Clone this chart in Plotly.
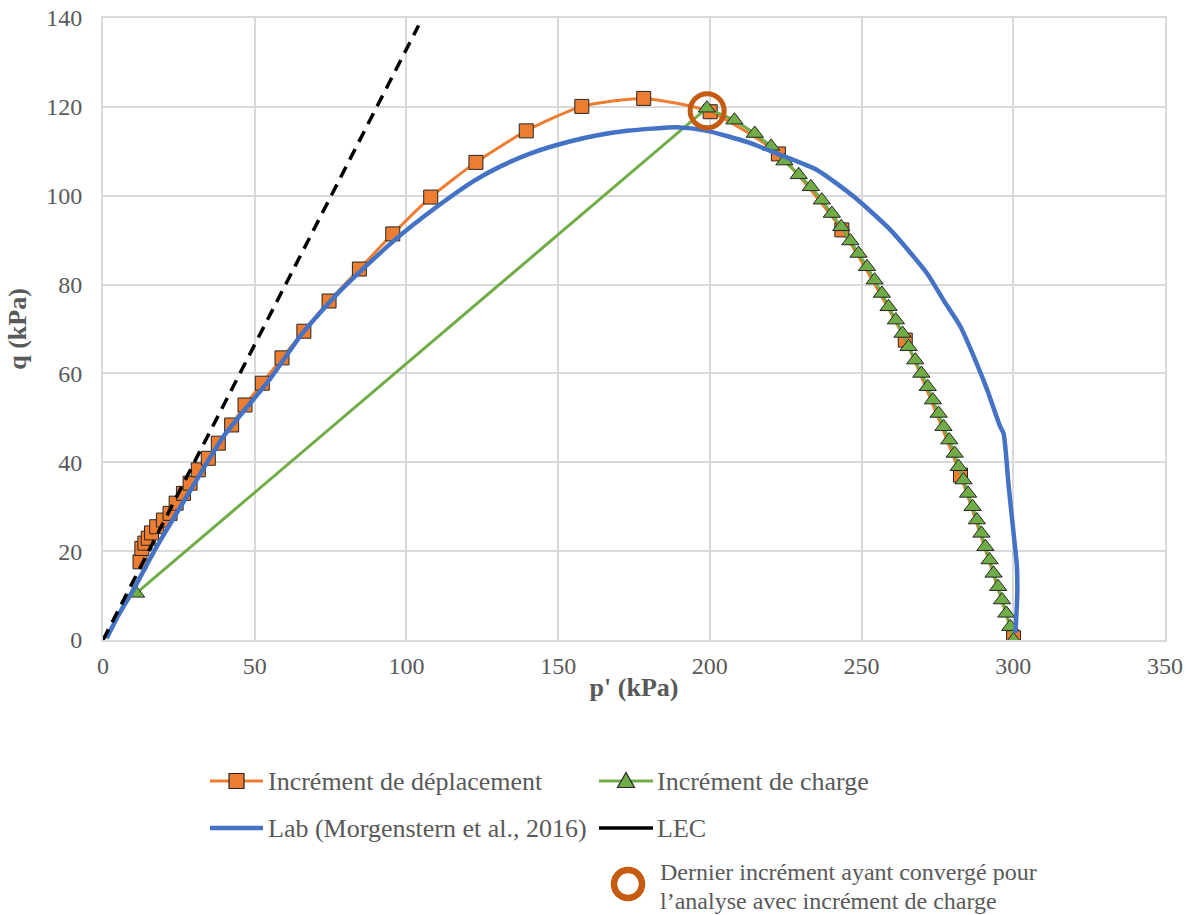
import plotly.graph_objects as go

# ---- data ----
disp_p = [12.2, 12.8, 13.8, 14.9, 16.0, 17.7, 19.9, 22.1, 24.1, 26.5, 28.7, 31.4, 34.7, 38.0,
          42.4, 46.8, 52.5, 59.0, 66.2, 74.5, 84.5, 95.5, 108.0, 122.9, 139.5, 157.8, 178.2,
          200.1, 222.6, 243.5, 264.4, 282.6, 300.1]
disp_q = [17.6, 20.6, 21.8, 22.9, 24.1, 25.5, 27.0, 28.5, 30.8, 33.0, 35.3, 38.3, 40.9, 44.3,
          48.4, 52.9, 57.8, 63.5, 69.5, 76.3, 83.5, 91.4, 99.7, 107.5, 114.6, 120.1, 121.9,
          118.9, 109.4, 92.3, 67.5, 37.1, 0.5]

load_p = [10.9, 199.0, 208.1, 214.8, 220.2, 224.6, 229.3, 233.3, 236.9, 240.2, 243.3, 246.3,
          249.0, 251.8, 254.3, 256.7, 258.9, 261.3, 263.5, 265.5, 267.7, 269.7, 271.8, 273.5,
          275.4, 277.0, 278.9, 280.7, 282.0, 283.6, 285.1, 286.6, 288.0, 289.5, 290.8, 292.2,
          293.5, 295.0, 296.3, 297.7, 299.0, 300.1]
load_q = [10.5, 119.7, 117.0, 114.0, 111.1, 107.8, 104.7, 102.0, 99.0, 96.0, 93.0, 89.8,
          87.0, 84.0, 81.0, 78.0, 75.0, 72.0, 69.0, 66.0, 63.0, 60.0, 57.0, 54.0,
          51.0, 48.0, 45.0, 42.0, 39.0, 36.0, 33.0, 30.0, 27.0, 24.0, 21.0, 18.0,
          15.0, 12.0, 9.0, 6.0, 3.0, 0.0]

lab_p = [1.2, 5.0, 10.0, 17.7, 27.6, 39.7, 55.0, 65.7, 78.3, 95.9, 109.8, 122.4, 131.0, 141.2,
         153.8, 163.0, 172.7, 181.0, 189.1, 199.1, 212.7, 223.2, 235.3, 247.4, 259.5,
         271.6, 277.0, 282.6, 287.0, 291.4, 295.7, 296.8, 298.5, 300.1, 301.2, 301.3, 300.7]
lab_q = [0.4, 5.5, 11.3, 21.0, 32.3, 45.8, 58.7, 69.0, 78.7, 89.9, 97.4, 103.4, 106.6, 109.6,
         112.2, 113.6, 114.6, 115.1, 115.4, 114.6, 112.0, 109.2, 105.8, 99.8, 92.3,
         82.5, 76.5, 70.5, 63.8, 56.3, 48.0, 46.5, 34.5, 24.0, 16.5, 10.0, 1.6]

lec_p = [0.0, 104.0]
lec_q = [0.0, 138.3]

conv_p = [199.1]
conv_q = [119.1]

x_ticks = [0, 50, 100, 150, 200, 250, 300, 350]
y_ticks = [0, 20, 40, 60, 80, 100, 120, 140]

names = ["Incr\u00e9ment de d\u00e9placement", "Incr\u00e9ment de charge",
         "Lab (Morgenstern et al., 2016)", "LEC"]
note_lines = ["Dernier incr\u00e9ment ayant converg\u00e9 pour",
              "l\u2019analyse avec incr\u00e9ment de charge"]

# ---- styles ----
ORANGE = "#ED7D31"
GREEN = "#70AD47"
BLUE = "#4472C4"
BROWN = "#C55A11"
EDGE = "#262626"
GRID = "#D9D9D9"
TXT = "#595959"
FONT = "Liberation Serif, Times New Roman, serif"

W, H = 1193, 915
# plot area in pixels: x 103..1165, y 18..640
PX0, PX1, PY0, PY1 = 103, 1165, 18, 640


def paper_x(px):
    return (px - PX0) / (PX1 - PX0)


def paper_y(py):
    return (PY1 - py) / (PY1 - PY0)


fig = go.Figure()

fig.add_trace(go.Scatter(
    x=disp_p, y=disp_q, mode="lines+markers", name=names[0],
    line=dict(color=ORANGE, width=3, shape="spline", smoothing=0.6),
    marker=dict(symbol="square", size=14, color=ORANGE, line=dict(color=EDGE, width=1))))

fig.add_trace(go.Scatter(
    x=load_p, y=load_q, mode="lines+markers", name=names[1],
    line=dict(color=GREEN, width=3),
    marker=dict(symbol="triangle-up", size=15, color=GREEN, line=dict(color=EDGE, width=1))))

fig.add_trace(go.Scatter(
    x=lab_p, y=lab_q, mode="lines", name=names[2],
    line=dict(color=BLUE, width=4.5, shape="spline", smoothing=0.6)))

fig.add_trace(go.Scatter(
    x=lec_p, y=lec_q, mode="lines", name=names[3],
    line=dict(color="black", width=3.5, dash="12px,8px")))

fig.add_trace(go.Scatter(
    x=conv_p, y=conv_q, mode="markers", name=note_lines[0],
    marker=dict(symbol="circle-open", size=34, color=BROWN, line=dict(color=BROWN, width=5))))


# ---- legend drawn below the plot (shapes + real text annotations) ----
def leg_line(x0, x1, y, color, width):
    fig.add_shape(type="line", xref="paper", yref="paper",
                  x0=paper_x(x0), x1=paper_x(x1), y0=paper_y(y), y1=paper_y(y),
                  line=dict(color=color, width=width))


def leg_text(x, y, text, size=26):
    fig.add_annotation(xref="paper", yref="paper", x=paper_x(x), y=paper_y(y),
                       xanchor="left", yanchor="middle", align="left", showarrow=False,
                       text=text, font=dict(family=FONT, size=size, color=TXT))


ROW1, ROW2 = 781, 828
COL1_L, COL1_R, COL1_T = 210, 263, 266
COL2_L, COL2_R, COL2_T = 599, 653, 655

# orange entry
leg_line(COL1_L, COL1_R, ROW1, ORANGE, 3)
cx = (COL1_L + COL1_R) / 2
fig.add_shape(type="rect", xref="paper", yref="paper",
              x0=paper_x(cx - 7.5), x1=paper_x(cx + 7.5),
              y0=paper_y(ROW1 + 7.5), y1=paper_y(ROW1 - 7.5),
              fillcolor=ORANGE, line=dict(color=EDGE, width=1.2))
leg_text(COL1_T, ROW1, names[0])

# green entry
leg_line(COL2_L, COL2_R, ROW1, GREEN, 3)
cx = (COL2_L + COL2_R) / 2
tri = "M {:.5f},{:.5f} L {:.5f},{:.5f} L {:.5f},{:.5f} Z".format(
    paper_x(cx), paper_y(ROW1 - 8.5),
    paper_x(cx - 8.5), paper_y(ROW1 + 6.5),
    paper_x(cx + 8.5), paper_y(ROW1 + 6.5))
fig.add_shape(type="path", xref="paper", yref="paper", path=tri,
              fillcolor=GREEN, line=dict(color=EDGE, width=1.2))
leg_text(COL2_T, ROW1, names[1])

# blue entry
leg_line(COL1_L, COL1_R, ROW2, BLUE, 4.5)
leg_text(COL1_T, ROW2, names[2])

# LEC entry
leg_line(COL2_L, COL2_R, ROW2, "black", 3.5)
leg_text(COL2_T, ROW2, names[3])

# converged-increment note
fig.add_shape(type="circle", xref="paper", yref="paper",
              x0=paper_x(614), x1=paper_x(642), y0=paper_y(898), y1=paper_y(870),
              line=dict(color=BROWN, width=6.5), fillcolor="rgba(0,0,0,0)")
leg_text(658, 872, note_lines[0], size=24)
leg_text(658, 901, note_lines[1], size=24)

axis_common = dict(
    showgrid=True, gridcolor=GRID, gridwidth=2,
    showline=True, linecolor=GRID, linewidth=2, mirror=True,
    zeroline=False, ticks="", automargin=False,
    tickfont=dict(family=FONT, size=24, color=TXT),
)

fig.update_layout(
    width=W, height=H,
    margin=dict(l=PX0, r=W - PX1, t=PY0, b=H - PY1),
    paper_bgcolor="white", plot_bgcolor="white",
    showlegend=False,
    xaxis=dict(range=[0, 350], tickvals=x_ticks, ticklabelstandoff=3,
               title=dict(text="<b>p' (kPa)</b>", font=dict(family=FONT, size=26, color=TXT), standoff=0),
               **axis_common),
    yaxis=dict(range=[0, 140], tickvals=y_ticks, ticklabelstandoff=14,
               title=dict(text="<b>q (kPa)</b>", font=dict(family=FONT, size=26, color=TXT), standoff=12),
               **axis_common),
)

fig.write_html("out.html")
